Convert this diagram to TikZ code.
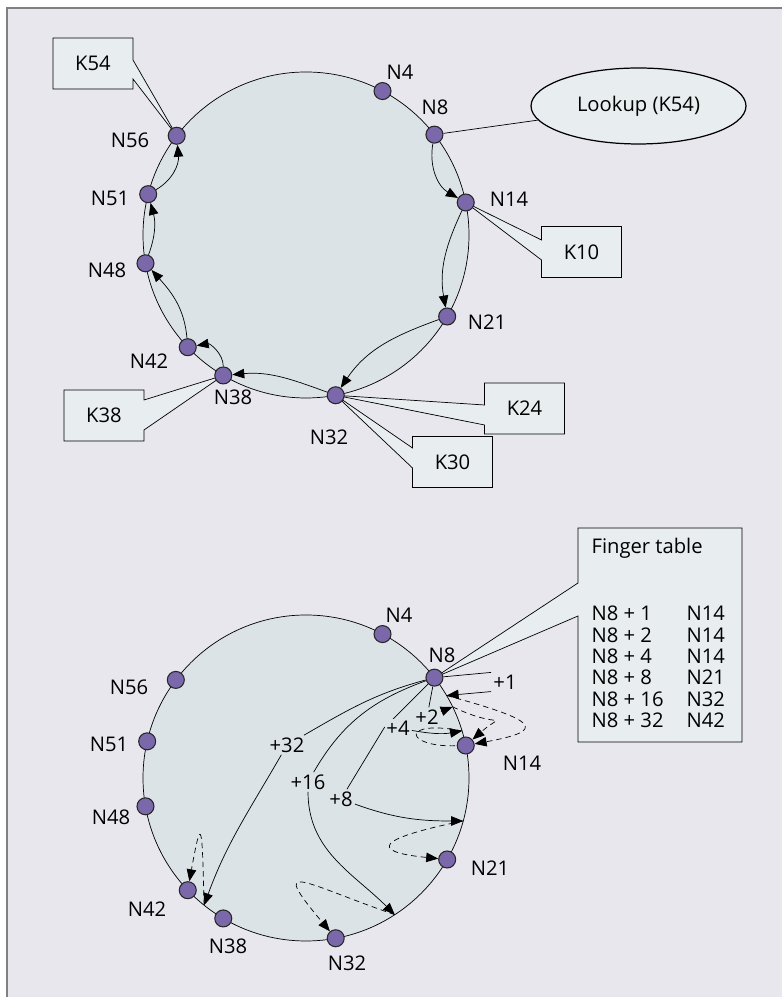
\documentclass[tikz,border=0pt]{standalone}
\usepackage{fontspec}
\setmainfont{Open Sans}
\usetikzlibrary{calc,arrows.meta,shapes.geometric}
\pgfdeclarelayer{back}
\pgfsetlayers{back,main}
\definecolor{paper}{HTML}{E8E7EE}
\definecolor{ring}{HTML}{DCE3E7}
\definecolor{boxfill}{HTML}{E8EDF0}
\definecolor{nodecol}{HTML}{7B68AA}
\definecolor{framecol}{HTML}{808080}
% callout outline, pointer on the west / east side of box #1
\def\callW(#1)(#2,#3)(#4){\draw[fill=boxfill] (#1.north west) -- ($(#1.west)+(0,#2)$) -- (#4.center) -- ($(#1.west)+(0,#3)$) -- (#1.south west) -- (#1.south east) -- (#1.north east) -- cycle;}
\def\callE(#1)(#2,#3)(#4){\draw[fill=boxfill] (#1.north east) -- ($(#1.east)+(0,#2)$) -- (#4.center) -- ($(#1.east)+(0,#3)$) -- (#1.south east) -- (#1.south west) -- (#1.north west) -- cycle;}
\tikzset{
	dot/.style={circle,fill=nodecol,draw=black!85,line width=0.6pt,minimum size=0.34cm,inner sep=0pt},
	lbl/.style={inner sep=1pt},
	flbl/.style={inner sep=1pt,fill=ring},
	keybox/.style={minimum width=1.6cm,minimum height=1.02cm,inner sep=0pt,outer sep=0pt},
	dsh/.style={dash pattern=on 1.1mm off 0.8mm}
}
\begin{document}
\begin{tikzpicture}[x=0.02cm,y=0.02cm,line width=0.7pt,font=\fontsize{11.5}{13}\selectfont,>={Triangle[length=2.4mm,width=1.9mm]}]
			%%%%% START %%%%%
			\useasboundingbox (0,0) rectangle (782,997);
			
			% top ring: lookup path
			\begin{scope}[shift={(306,762)}]
				\foreach \n/\a in {4/62,8/38,14/11.5,21/-30,32/-79.5,38/-120.5,42/-136.5,48/-170,51/165.5,56/142.5}
					\node[dot] (t\n) at (\a:163) {};
			\end{scope}
			\node[lbl] (lt4) at (400,925) {N4};
			\node[lbl] (lt8) at (435,890) {N8};
			\node[lbl] (lt14) at (509,798) {N14};
			\node[lbl] (lt21) at (487,675) {N21};
			\node[lbl] (lt32) at (329,560) {N32};
			\node[lbl] (lt38) at (233,600) {N38};
			\node[lbl] (lt42) at (149,636) {N42};
			\node[lbl] (lt48) at (107,727) {N48};
			\node[lbl] (lt51) at (110,799) {N51};
			\node[lbl] (lt56) at (130,857) {N56};
			
			\node[keybox] (k54) at (93,933.5) {K54};
			\node[keybox] (k10) at (581.5,745) {K10};
			\node[keybox] (k24) at (524.5,588.5) {K24};
			\node[keybox] (k30) at (452.5,535) {K30};
			\node[keybox] (k38) at (104,581.5) {K38};
			\node[ellipse,draw,fill=boxfill,minimum width=4.3cm,minimum height=1.52cm,inner sep=0pt] (lookup) at (638.5,891) {Lookup (K54)};
			
			% bottom ring: fingers of N8
			\begin{scope}[shift={(306,219)}]
				\foreach \n/\a in {4/62,8/38,14/11.5,21/-30,32/-79.5,38/-120.5,42/-136.5,48/-170,51/167,56/143}
					\node[dot] (b\n) at (\a:163) {};
				\coordinate (p9) at (30.4:163);
				\coordinate (p10) at (25.9:163);
				\coordinate (p12) at (16.8:163);
				\coordinate (p16) at (-15.3:163);
				\coordinate (p24) at (-57:163);
				\coordinate (p40) at (-128.7:163);
			\end{scope}
			\node[lbl] (lb4) at (399,382) {N4};
			\node[lbl] (lb8) at (442,342) {N8};
			\node[lbl] (lb14) at (522,234) {N14};
			\node[lbl] (lb21) at (490,129) {N21};
			\node[lbl] (lb32) at (347,34) {N32};
			\node[lbl] (lb38) at (228,51) {N38};
			\node[lbl] (lb42) at (147,88) {N42};
			\node[lbl] (lb48) at (111,180) {N48};
			\node[lbl] (lb51) at (109,253) {N51};
			\node[lbl] (lb56) at (129,310) {N56};
			
			\node[lbl] (lp1) at (505,315) {+1};
			\node[flbl] (lp2) at (427,280) {+2};
			\node[flbl] (lp4) at (398,269) {+4};
			\node[flbl] (lp8) at (341,198) {+8};
			\node[flbl] (lp16) at (308,215) {+16};
			\node[flbl] (lp32) at (287,252) {+32};
			
			\node[keybox,minimum width=3.28cm,minimum height=4.28cm] (ftab) at (660,362) {};
			\node[lbl,anchor=base west,inner sep=0pt] (fhead) at (591,443) {Finger table};
			\node[anchor=base west,inner sep=0pt] (frows) at (591,376) {\fontsize{11.5}{12.1}\selectfont
				\begin{tabular}[t]{@{}p{1.9cm}@{}l@{}}
					N8 + 1 & N14\\
					N8 + 2 & N14\\
					N8 + 4 & N14\\
					N8 + 8 & N21\\
					N8 + 16 & N32\\
					N8 + 32 & N42
				\end{tabular}};
			
			\begin{pgfonlayer}{back}
				\fill[white] (0,0) rectangle (782,997);
				\fill[paper] (7,0) rectangle (782,989);
				\draw[framecol,line width=1.2pt] (7,0) -- (7,989) -- (782,989);
				
				\draw[fill=ring] (306,762) circle (163);
				\draw[fill=ring] (306,219) circle (163);
				
				\callE(k54)(3.5,-15.5)(t56)
				\callW(k10)(12,-8)(t14)
				\callW(k24)(3.5,-16.5)(t32)
				\callW(k30)(14,-6)(t32)
				\callE(k38)(15.5,-14.5)(t38)
				\callW(ftab)(52,19)(b8)
				\draw (t8) -- (lookup);
				
				\draw[->] (t8) to[out=-100,in=150] (t14);
				\draw[->] (t14) to[out=-115,in=100] (t21);
				\draw[->] (t21) to[out=200,in=56] (t32);
				\draw[->] (t32) to[out=160,in=5] (t38);
				\draw[->] (t38) to[out=90,in=10] (t42);
				\draw[->] (t42) to[out=95,in=-48] (t48);
				\draw[->] (t48) to[out=70,in=-75] (t51);
				\draw[->] (t51) to[out=30,in=-85] (t56);
				
				\draw (b8) -- (lp1.north west);
				\draw[->] (lp1.south west) -- (p9);
				\draw (b8) -- (lp2);
				\draw[->] (lp2) -- (p10);
				\draw (b8) -- (lp4.west) -- (lp8);
				\draw[->] (lp4) to[out=-10,in=190] (p12);
				\draw (b8) to[out=195,in=30] (lp32);
				\draw[->] (lp32) to[out=240,in=70] (p40);
				\draw (b8) to[out=200,in=60] (lp16);
				\draw[->] (lp16) to[out=270,in=135] (p24);
				\draw[->] (lp8) to[out=-20,in=180] (p16);
				
				\draw[->,dsh] (p9) .. controls +(92,-25) and +(82,15) .. (b14);
				\draw[->,dsh] (p10) .. controls +(50,-24) and +(40,35) .. (b14);
				\draw[dsh] (p12) .. controls +(-62,12) and +(-62,-2) .. (b14);
				\draw[->,dsh] (p16) .. controls +(-85,-17) and +(-80,8) .. (b21);
				\draw[->,dsh] (p24) .. controls +(-95,33) and +(-67,80) .. (b32);
				\draw[->,dsh] (p40) .. controls +(-2,80) and +(14,78) .. (b42);
			\end{pgfonlayer}
			%%%%% END %%%%%
\end{tikzpicture}
\end{document}
